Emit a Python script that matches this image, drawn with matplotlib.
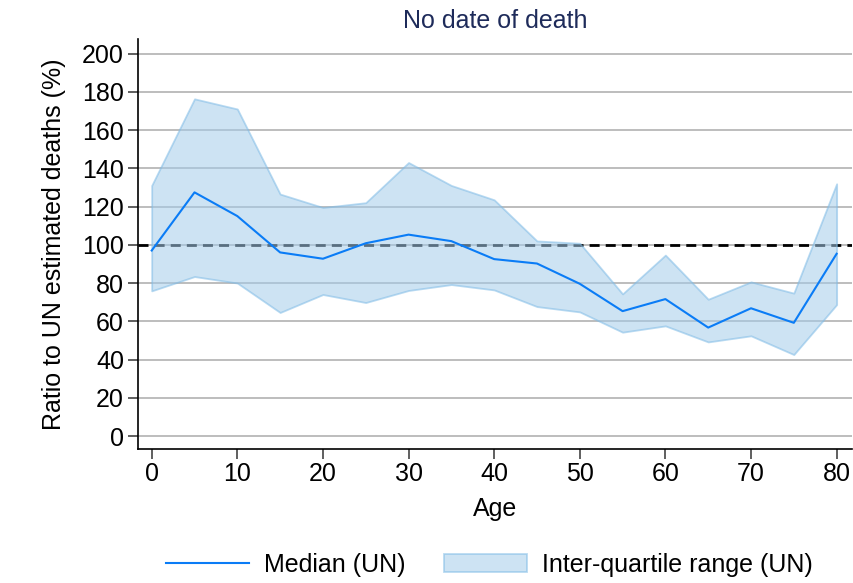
import numpy as np
import matplotlib.pyplot as plt

plt.rcParams['font.family'] = ['Liberation Sans', 'DejaVu Sans']

# ratio to UN estimated deaths (%), by age
ages = [0, 5, 10, 15, 20, 25, 30, 35, 40, 45, 50, 55, 60, 65, 70, 75, 80]
median = [97, 127.4, 115, 96, 92.7, 100.8, 105.3, 101.9, 92.5, 90.2, 79.6, 65.3, 71.6, 56.7, 66.8, 59.2, 95.3]
q_low = [75.9, 83.4, 80, 64.6, 74, 69.8, 76.1, 79.2, 76.4, 67.7, 64.9, 54.3, 57.6, 49.2, 52.4, 42.6, 68.7]
q_high = [131, 176.3, 171, 126.5, 119.5, 122, 143, 131, 123.5, 102, 100.8, 74.3, 94.6, 71.5, 80.6, 74.7, 131.9]

yticks = np.arange(0, 201, 20)
xticks = np.arange(0, 81, 10)

fig = plt.figure(figsize=(8.54, 5.83), dpi=100)
ax = fig.add_axes([0.1616, 0.2298, 0.8361, 0.703])

for y in yticks:
    ax.axhline(y, color='#bdbdbd', lw=1.4, zorder=0)
ax.axhline(100, color='black', lw=2.0, ls=(0, (3.6, 2.2)), zorder=1)

ax.fill_between(ages, q_low, q_high, facecolor='#a4ccea', edgecolor='#7fbbe6',
                lw=1.3, alpha=0.55, zorder=2, label='Inter-quartile range (UN)')
ax.plot(ages, median, color='#0a7cf6', lw=1.5, zorder=3, label='Median (UN)')

ax.set_xlim(-1.6, 81.8)
ax.set_ylim(-6.8, 207.5)
ax.set_yticks(yticks)
ax.set_xticks(xticks)
ax.tick_params(axis='both', labelsize=18, length=7, width=1.2, color='#444444')
ax.tick_params(axis='y', pad=3)
ax.tick_params(axis='x', pad=2)
for s in ['top', 'right']:
    ax.spines[s].set_visible(False)
for s in ['left', 'bottom']:
    ax.spines[s].set_linewidth(1.2)

ax.set_xlabel('Age', fontsize=18, labelpad=8)
ax.set_ylabel('Ratio to UN estimated deaths (%)', fontsize=18, labelpad=12)
ax.set_title('No date of death', fontsize=18, color='#1e2b5a', pad=8)

h, l = ax.get_legend_handles_labels()
fig.legend(h[::-1], l[::-1], loc='center', bbox_to_anchor=(0.573, 0.031), ncol=2,
           frameon=False, fontsize=18, handlelength=3.3, columnspacing=1.55,
           handletextpad=0.6)

fig.savefig('out.png', dpi=100)
